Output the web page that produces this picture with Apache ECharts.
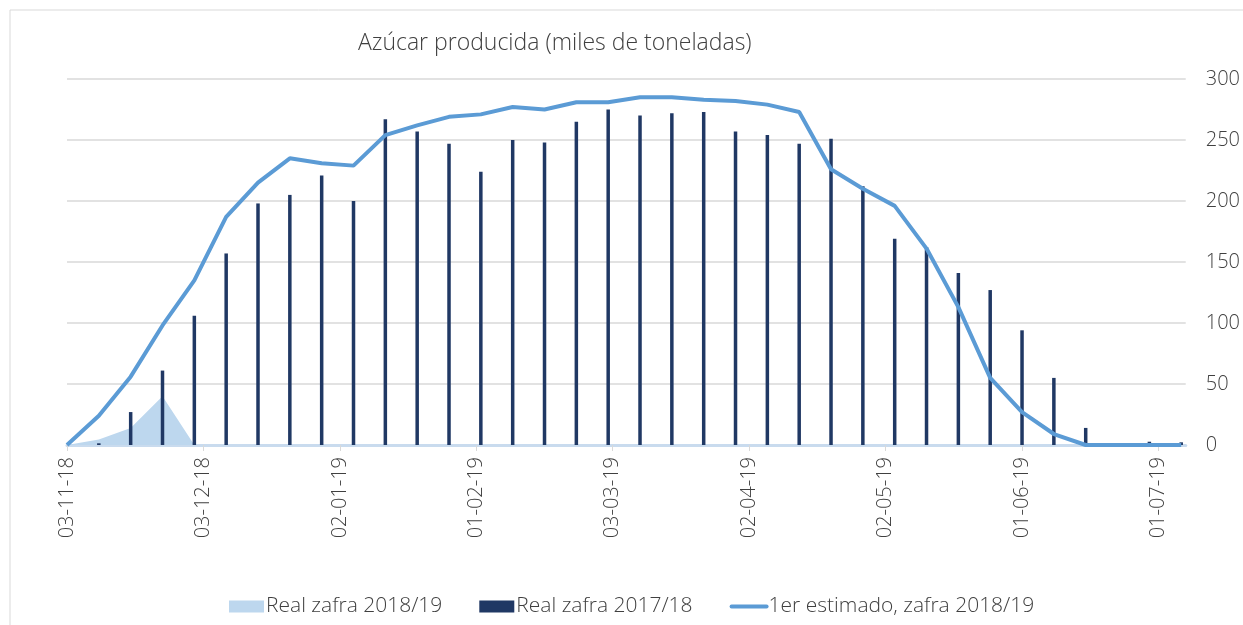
<!DOCTYPE html>
<html>
<head>
<meta charset="utf-8">
<script src="https://cdn.jsdelivr.net/npm/echarts@6/dist/echarts.min.js"></script>
<style>
  html, body { margin: 0; padding: 0; background: #fff; }
  #chart { width: 1243px; height: 625px; }
</style>
</head>
<body>
<div id="chart"></div>
<script>
// semanas (sábados) desde el 03-11-18
const fechas = [
  '2018-11-03', '2018-11-10', '2018-11-17', '2018-11-24', '2018-12-01', '2018-12-08',
  '2018-12-15', '2018-12-22', '2018-12-29', '2019-01-05', '2019-01-12', '2019-01-19',
  '2019-01-26', '2019-02-02', '2019-02-09', '2019-02-16', '2019-02-23', '2019-03-02',
  '2019-03-09', '2019-03-16', '2019-03-23', '2019-03-30', '2019-04-06', '2019-04-13',
  '2019-04-20', '2019-04-27', '2019-05-04', '2019-05-11', '2019-05-18', '2019-05-25',
  '2019-06-01', '2019-06-08', '2019-06-15', '2019-06-22', '2019-06-29', '2019-07-06'
]
const realZafra1819 = [0, 4.6, 14, 40, 0, 0, 0, 0, 0, 0, 0, 0, 0, 0, 0, 0, 0, 0,
  0, 0, 0, 0, 0, 0, 0, 0, 0, 0, 0, 0, 0, 0, 0, 0, 0, 0]
const realZafra1718 = [null, 1.4, 27, 61, 106, 157, 198, 205, 221, 200, 267, 257,
  247, 224, 250, 248, 265, 275, 270, 272, 273, 257, 254, 247,
  251, 212, 169, 162, 141, 127, 94, 55, 14, 1.3, 2.7, 2.2]
const estimado1819 = [0, 24, 56, 98, 135, 187, 215, 235, 231, 229, 254, 262,
  269, 271, 277, 275, 281, 281, 285, 285, 283, 282, 279, 273,
  226, 210, 196, 161, 113, 55, 27, 9, 0, 0, 0, 0]
// etiquetas del eje cada 30 días
const etiquetasDias = [0, 30, 60, 90, 120, 150, 180, 210, 240]

const DAY = 24 * 3600 * 1000
const base = Date.parse(fechas[0] + 'T00:00:00Z')
const dia = f => Math.round((Date.parse(f + 'T00:00:00Z') - base) / DAY)
const pares = arr => fechas.map((f, i) => [dia(f), arr[i]])

const fmtFecha = v => {
  const d = new Date(base + v * DAY)
  const p = n => String(n).padStart(2, '0')
  return p(d.getUTCDate()) + '-' + p(d.getUTCMonth() + 1) + '-' + String(d.getUTCFullYear()).slice(2)
}

const font = '"Open Sans", Lato, sans-serif'
const chart = echarts.init(document.getElementById('chart'))

chart.setOption({
  animation: false,
  textStyle: { fontFamily: font },
  title: {
    text: 'Azúcar producida (miles de toneladas)',
    left: 353,
    top: 27,
    textStyle: { fontFamily: font, fontSize: 23, fontWeight: 300, color: '#404040' }
  },
  graphic: [{
    type: 'rect',
    shape: { x: 10, y: 10, width: 1260, height: 640 },
    style: { fill: 'none', stroke: '#d9d9d9', lineWidth: 1 },
    silent: true
  }],
  grid: { left: 67, right: 55, top: 79, bottom: 180 },
  legend: {
    left: 224,
    top: 591,
    itemWidth: 35,
    itemHeight: 12,
    itemGap: 37,
    textStyle: { fontFamily: font, fontSize: 21, fontWeight: 300, color: '#404040', padding: [0, 0, 0, -3] },
    data: [
      { name: 'Real zafra 2018/19', icon: 'rect' },
      { name: 'Real zafra 2017/18', icon: 'rect' },
      { name: '1er estimado, zafra 2018/19', itemStyle: { opacity: 0 }, lineStyle: { width: 4, cap: 'round' } }
    ]
  },
  xAxis: {
    type: 'value',
    min: 0,
    max: 246,
    interval: 30,
    splitLine: { show: false },
    axisLine: { lineStyle: { color: '#c9dbee', width: 3 } },
    axisTick: {
      customValues: etiquetasDias,
      length: 6,
      lineStyle: { color: '#d9d9d9' }
    },
    axisLabel: {
      customValues: etiquetasDias,
      rotate: 90,
      margin: 12,
      fontSize: 20,
      fontWeight: 300,
      color: '#404040',
      formatter: fmtFecha
    }
  },
  yAxis: {
    type: 'value',
    position: 'right',
    min: 0,
    max: 300,
    interval: 50,
    axisLine: { show: false },
    axisTick: { show: false },
    splitLine: { lineStyle: { color: '#d9d9d9', width: 1.5 } },
    axisLabel: { margin: 20, fontSize: 20, fontWeight: 300, color: '#404040' }
  },
  series: [
    {
      name: 'Real zafra 2018/19',
      type: 'line',
      data: pares(realZafra1819),
      symbol: 'none',
      lineStyle: { width: 0 },
      itemStyle: { color: '#bdd7ee' },
      areaStyle: { color: '#bdd7ee', opacity: 1 },
      z: 1
    },
    {
      name: 'Real zafra 2017/18',
      type: 'bar',
      data: pares(realZafra1718),
      barWidth: 3.5,
      itemStyle: { color: '#203864' },
      z: 2
    },
    {
      name: '1er estimado, zafra 2018/19',
      type: 'line',
      data: pares(estimado1819),
      symbol: 'none',
      lineStyle: { color: '#5b9bd5', width: 4 },
      itemStyle: { color: '#5b9bd5' },
      z: 3
    }
  ]
})
</script>
</body>
</html>
